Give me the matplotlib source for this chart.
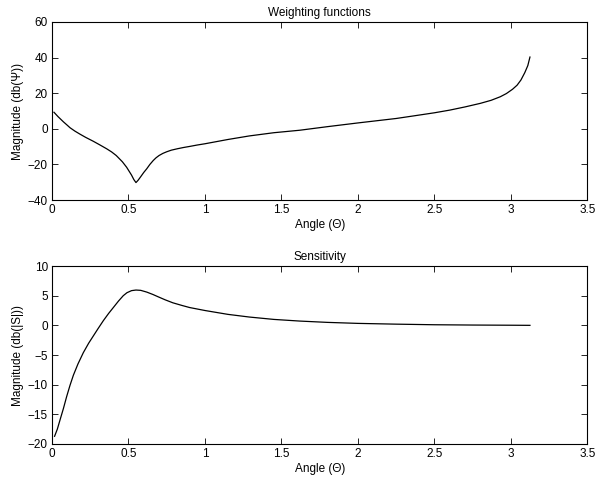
import matplotlib
matplotlib.use("Agg")
import matplotlib.pyplot as plt

# Weighting function (top)
theta_w = [0.013, 0.04, 0.075, 0.10, 0.118, 0.15, 0.183, 0.22, 0.27, 0.31,
           0.357, 0.39, 0.42, 0.46, 0.488, 0.52, 0.535, 0.549, 0.562, 0.575,
           0.60, 0.619, 0.64, 0.662, 0.68, 0.70, 0.725, 0.75, 0.78, 0.82,
           0.86, 0.90, 0.95, 1.0, 1.15, 1.29, 1.45, 1.62, 1.8, 2.0,
           2.25, 2.36, 2.5, 2.6, 2.7, 2.8, 2.87, 2.93, 2.97, 3.01,
           3.04, 3.065, 3.09, 3.11, 3.124]
psi_db = [9.3, 6.8, 3.9, 2.0, 0.6, -1.3, -3.0, -4.8, -7.0, -8.9,
          -11.2, -13.0, -15.0, -18.5, -21.6, -26.0, -28.5, -30.2, -29.0, -27.5,
          -24.5, -22.5, -20.0, -17.8, -16.3, -15.0, -13.8, -12.9, -12.0, -11.2,
          -10.5, -9.9, -9.1, -8.4, -6.0, -4.0, -2.2, -0.8, 1.2, 3.3,
          5.8, 7.2, 9.0, 10.5, 12.3, 14.3, 16.0, 18.0, 19.8, 22.2,
          24.5, 27.4, 31.5, 35.5, 40.3]

# Sensitivity (bottom)
theta_s = [0.017, 0.035, 0.052, 0.075, 0.096, 0.118, 0.14, 0.17, 0.205, 0.24,
           0.27, 0.30, 0.336, 0.37, 0.401, 0.435, 0.466, 0.49, 0.52, 0.549,
           0.58, 0.62, 0.66, 0.695, 0.74, 0.79, 0.85, 0.9, 0.95, 1.0,
           1.15, 1.29, 1.45, 1.62, 1.8, 2.0, 2.25, 2.5, 2.75, 3.0,
           3.124]
s_db = [-18.7, -17.5, -16.0, -14.0, -12.0, -10.1, -8.4, -6.5, -4.6, -3.0,
        -1.8, -0.6, 0.8, 2.0, 3.0, 4.1, 5.0, 5.5, 5.85, 5.95,
        5.9, 5.6, 5.2, 4.8, 4.3, 3.8, 3.35, 3.0, 2.75, 2.5,
        1.85, 1.4, 1.0, 0.72, 0.5, 0.33, 0.2, 0.1, 0.05, 0.02,
        0.0]

x_ticks = [0, 0.5, 1, 1.5, 2, 2.5, 3, 3.5]
x_ticklabels = ["0", "0.5", "1", "1.5", "2", "2.5", "3", "3.5"]
y_ticks_top = [-40, -20, 0, 20, 40, 60]
y_ticks_bot = [-20, -15, -10, -5, 0, 5, 10]

plt.rcParams['font.family'] = ['Liberation Sans', 'DejaVu Sans']
plt.rcParams['font.size'] = 8.5

fig = plt.figure(figsize=(5.96, 4.80), dpi=100)
ax1 = fig.add_axes([0.0872, 0.5833, 0.8985, 0.3709])
ax2 = fig.add_axes([0.0872, 0.075, 0.8985, 0.3708])

def style(ax):
    ax.tick_params(direction='in', top=True, right=True, length=4, width=0.6,
                   labelsize=8.5, pad=3)
    for sp in ax.spines.values():
        sp.set_linewidth(0.8)
    ax.set_xlim(0, 3.5)
    ax.set_xticks(x_ticks)
    ax.set_xticklabels(x_ticklabels)

ax1.plot(theta_w, psi_db, color='black', linewidth=0.9)
style(ax1)
ax1.set_ylim(-40, 60)
ax1.set_yticks(y_ticks_top)
ax1.set_title("Weighting functions", fontsize=8.5, pad=4)
ax1.set_xlabel("Angle (\u0398)", fontsize=8.5, labelpad=2)
ax1.set_ylabel("Magnitude (db(\u03a8))", fontsize=8.5, labelpad=3)

ax2.plot(theta_s, s_db, color='black', linewidth=0.9)
style(ax2)
ax2.set_ylim(-20, 10)
ax2.set_yticks(y_ticks_bot)
ax2.set_title("Sensitivity", fontsize=8.5, pad=4)
ax2.set_xlabel("Angle (\u0398)", fontsize=8.5, labelpad=2)
ax2.set_ylabel("Magnitude (db(|S|))", fontsize=8.5, labelpad=3)

fig.savefig("out.png", dpi=100)
